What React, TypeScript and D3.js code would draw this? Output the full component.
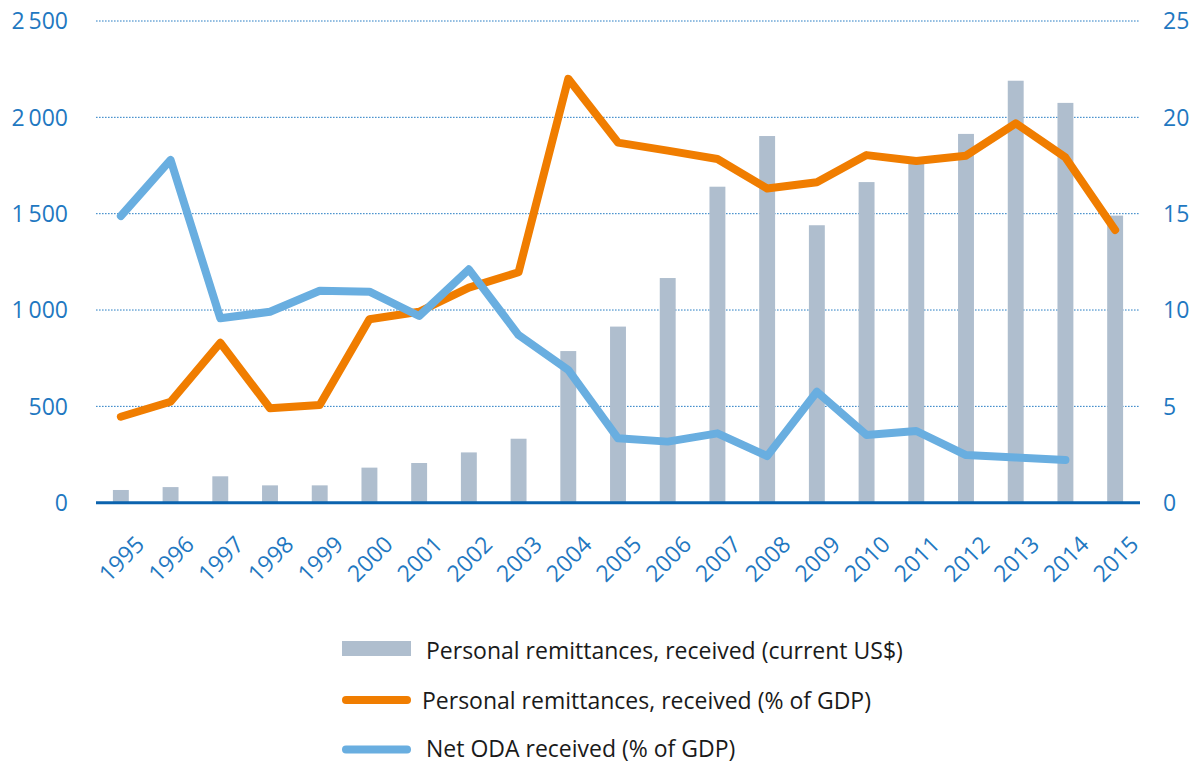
import React from "react";
import * as d3 from "d3";

const years = [
  "1995", "1996", "1997", "1998", "1999", "2000", "2001", "2002", "2003", "2004",
  "2005", "2006", "2007", "2008", "2009", "2010", "2011", "2012", "2013", "2014", "2015",
];
const remittancesUSD = [
  66, 81, 137, 90, 90, 182, 206, 261, 332, 787, 914, 1166, 1640, 1903, 1440, 1664,
  1770, 1914, 2190, 2075, 1490,
];
const remittancesPctGDP = [
  4.46, 5.24, 8.3, 4.9, 5.07, 9.52, 9.91, 11.16, 11.96, 22.0, 18.69, 18.27, 17.84,
  16.31, 16.63, 18.04, 17.73, 18.01, 19.69, 17.92, 14.15,
];
const odaPctGDP: (number | null)[] = [
  14.88, 17.79, 9.57, 9.91, 11.0, 10.95, 9.69, 12.11, 8.7, 6.89, 3.34, 3.17, 3.6,
  2.42, 5.76, 3.51, 3.72, 2.47, 2.35, 2.21, null,
];
const leftTicks = [0, 500, 1000, 1500, 2000, 2500];
const rightTicks = [0, 5, 10, 15, 20, 25];
const legendLabels = [
  "Personal remittances, received (current US$)",
  "Personal remittances, received (% of GDP)",
  "Net ODA received (% of GDP)",
];

const W = 1196;
const H = 764;
const X0 = 96;
const X1 = 1140;
const Y0 = 502.7;
const Y1 = 21;

const C_BAR = "#afbece";
const C_ORANGE = "#f07d00";
const C_BLUE = "#69aee0";
const C_TICK = "#1f78c1";
const C_GRID = "#2a7fc4";
const C_AXIS = "#0b63ae";
const FONT = "'Open Sans', 'Noto Sans', sans-serif";

const fmt = (v: number) => {
  const s = String(v);
  return s.length > 3 ? s.slice(0, s.length - 3) + "\u2009" + s.slice(s.length - 3) : s;
};

export default function App() {
  const x = d3.scaleBand<string>().domain(years).range([X0, X1]).paddingInner(0.68).paddingOuter(0.34);
  const yL = d3.scaleLinear().domain([0, 2500]).range([Y0, Y1]);
  const yR = d3.scaleLinear().domain([0, 25]).range([Y0, Y1]);
  const cx = (y: string) => (x(y) as number) + x.bandwidth() / 2;

  const lineOrange = d3
    .line<number>()
    .x((_, i) => cx(years[i]))
    .y((d) => yR(d))(remittancesPctGDP) as string;
  const lineBlue = d3
    .line<number | null>()
    .defined((d) => d !== null)
    .x((_, i) => cx(years[i]))
    .y((d) => yR(d as number))(odaPctGDP) as string;

  return (
    <svg
      width={W}
      height={H}
      style={{ position: "absolute", left: 0, top: 0, display: "block", background: "#fff" }}
      fontFamily={FONT}
    >
      {/* gridlines */}
      {leftTicks
        .filter((t) => t > 0)
        .map((t) => (
          <line
            key={"g" + t}
            x1={X0}
            x2={X1}
            y1={yL(t)}
            y2={yL(t)}
            stroke={C_GRID}
            strokeWidth={1}
            strokeDasharray="1.6,1.4"
          />
        ))}
      {/* bars */}
      {remittancesUSD.map((v, i) => (
        <rect
          key={"b" + i}
          x={x(years[i])}
          y={yL(v)}
          width={x.bandwidth()}
          height={Y0 - yL(v)}
          fill={C_BAR}
        />
      ))}
      {/* baseline */}
      <line x1={X0} x2={X1} y1={Y0} y2={Y0} stroke={C_AXIS} strokeWidth={3} />
      {/* lines */}
      <path d={lineOrange} fill="none" stroke={C_ORANGE} strokeWidth={8} strokeLinejoin="round" strokeLinecap="round" />
      <path d={lineBlue} fill="none" stroke={C_BLUE} strokeWidth={8} strokeLinejoin="round" strokeLinecap="round" />
      {/* left ticks */}
      {leftTicks.map((t) => (
        <text key={"l" + t} x={68} y={yL(t)} dy="0.36em" textAnchor="end" fill={C_TICK} fontSize={23}>
          {fmt(t)}
        </text>
      ))}
      {/* right ticks */}
      {rightTicks.map((t) => (
        <text key={"r" + t} x={1163} y={yR(t)} dy="0.36em" textAnchor="start" fill={C_TICK} fontSize={23}>
          {t}
        </text>
      ))}
      {/* x labels */}
      {years.map((yr) => {
        const px = cx(yr) + 25;
        const py = 546;
        return (
          <text
            key={"x" + yr}
            x={px}
            y={py}
            textAnchor="end"
            fill={C_TICK}
            fontSize={23}
            transform={`rotate(-45 ${px} ${py})`}
          >
            {yr}
          </text>
        );
      })}
      {/* legend */}
      <rect x={342} y={641} width={69} height={15} fill={C_BAR} />
      <text x={426} y={659} fontSize={23} fill="#1a1a1a">
        {legendLabels[0]}
      </text>
      <line x1={346} x2={407} y1={700} y2={700} stroke={C_ORANGE} strokeWidth={8} strokeLinecap="round" />
      <text x={422} y={709} fontSize={23} fill="#1a1a1a">
        {legendLabels[1]}
      </text>
      <line x1={346} x2={407} y1={749.5} y2={749.5} stroke={C_BLUE} strokeWidth={8} strokeLinecap="round" />
      <text x={426} y={757} fontSize={23} fill="#1a1a1a">
        {legendLabels[2]}
      </text>
    </svg>
  );
}
